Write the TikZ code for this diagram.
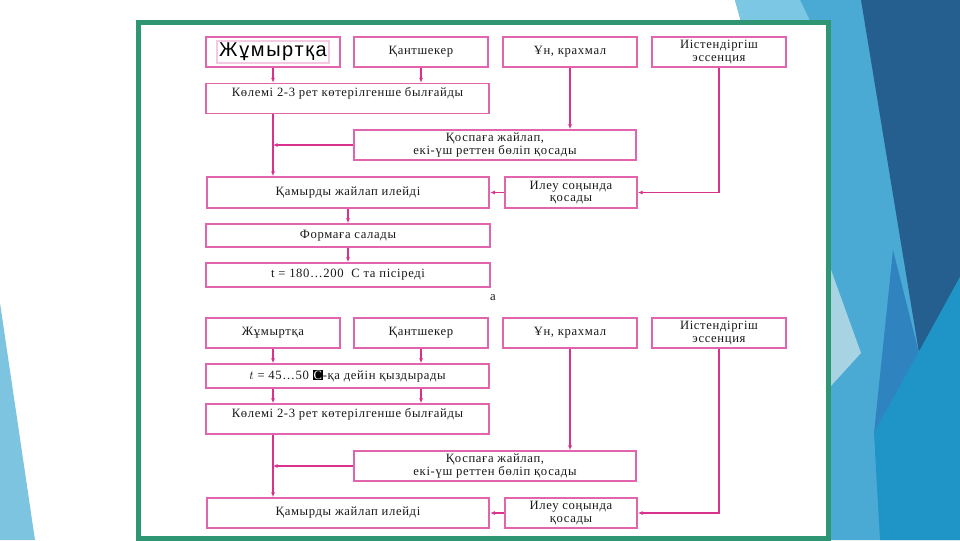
\documentclass[tikz,border=0pt]{standalone}
\usepackage{fontspec}
\setmainfont{Liberation Serif}
\newfontfamily\boxfont[LetterSpace=5]{Liberation Serif}
\newfontfamily\eggfont[LetterSpace=8]{Liberation Sans}
\usetikzlibrary{arrows.meta}

\definecolor{boxpink}{HTML}{E264AC}
\definecolor{linepink}{HTML}{D8328C}
\definecolor{framegreen}{HTML}{2E9672}
\definecolor{skyA}{HTML}{4BAAD4}
\definecolor{skyB}{HTML}{7CC7E3}
\definecolor{navy}{HTML}{245F8F}
\definecolor{midblue}{HTML}{2F84BF}
\definecolor{cerulean}{HTML}{1F95C7}
\definecolor{paleblue}{HTML}{A8D3E3}
\definecolor{leftblue}{HTML}{7DC4E0}

\begin{document}
\begin{tikzpicture}[x=0.75pt,y=-0.75pt,
box/.style={rectangle, draw=boxpink, line width=1.3pt, fill=white, inner sep=1pt, font=\boxfont\fontsize{9.5}{9.5}\selectfont, text=black!90, align=center},
smallbox/.style={box, minimum width=100pt, minimum height=22.5pt},
widebox/.style={box, minimum width=212pt, minimum height=22.5pt},
thinbox/.style={box, minimum width=213pt, minimum height=18pt},
conn/.style={draw=linepink, line width=1.2pt},
arr/.style={conn, -{Latex[length=3.5pt,width=3pt]}},
]
\useasboundingbox (0,0) rectangle (960,540);
% background of the slide
\fill[white] (0,0) rectangle (960,540);
\fill[leftblue] (0,303) -- (35,540) -- (0,540) -- cycle;
\fill[skyA] (735,0) -- (960,0) -- (960,540) -- (826,540) -- (826,25) -- (742,25) -- cycle;
\fill[skyB] (735,0) -- (800,0) -- (812,25) -- (742,25) -- cycle;
\fill[paleblue] (830,267) -- (861,353) -- (830,387) -- cycle;
\fill[navy] (861,0) -- (960,0) -- (960,277) -- (919,353) -- cycle;
\fill[midblue] (893,250) -- (919,353) -- (874,433) -- cycle;
\fill[cerulean] (960,277) -- (960,540) -- (880,540) -- (874,433) -- cycle;
\draw[framegreen, line width=3.75pt, fill=white] (138,22.5) rectangle (828.5,538.5);

% scheme a
\node[smallbox] (egg1) at (273,52) {{\setlength{\fboxrule}{1.6pt}\setlength{\fboxsep}{1pt}\fcolorbox{boxpink!35}{white}{\eggfont\fontsize{15}{15}\selectfont\color{black}Жұмыртқа}}};
\node[smallbox] (sugar1) at (421,52) {Қантшекер};
\node[smallbox] (flour1) at (570,52) {Ұн, крахмал};
\node[smallbox] (ess1) at (719,52) {Иістендіргіш\\эссенция};
\node[widebox] (whip1) at (347.5,98.5) {Көлемі 2-3 рет көтерілгенше былғайды\\~};
\node[widebox] (add1) at (495,145) {Қоспаға жайлап,\\екі-үш реттен бөліп қосады};
\node[widebox, minimum height=23.25pt] (knead1) at (348,192.5) {Қамырды жайлап илейді};
\node[smallbox, minimum width=99pt, minimum height=23.25pt] (end1) at (571,192.5) {Илеу соңында\\қосады};
\node[thinbox, minimum height=17.25pt] (form1) at (348,235.5) {Формаға салады};
\node[thinbox] (bake1) at (348,275) {t = 180…200 \ С та пісіреді};
\node[font=\boxfont\fontsize{9.5}{9.5}\selectfont, text=black!90] (capa) at (493,298) {а};

\draw[arr] (egg1.south) -- (egg1.south |- whip1.north);
\draw[arr] (sugar1.south) -- (sugar1.south |- whip1.north);
\draw[arr] (flour1.south) -- (flour1.south |- add1.north);
\draw[arr] (ess1.south) |- (end1.east);
\draw[arr] (whip1.south -| egg1) -- (knead1.north -| egg1);
\draw[arr] (add1.west) -- (add1.west -| egg1);
\draw[arr] (end1.west) -- (knead1.east);
\draw[arr] (knead1.south) -- (form1.north);
\draw[arr] (form1.south) -- (bake1.north);

% scheme b
\node[smallbox] (egg2) at (273,333) {Жұмыртқа};
\node[smallbox] (sugar2) at (421,333) {Қантшекер};
\node[smallbox] (flour2) at (570,333) {Ұн, крахмал};
\node[smallbox] (ess2) at (719,333) {Иістендіргіш\\эссенция};
\node[widebox, minimum height=18pt] (heat2) at (347.5,376) {$t$ = 45…50 {\setlength{\fboxsep}{0.6pt}\colorbox{black}{\textcolor{white}{С}}}-қа дейін қыздырады};
\node[widebox] (whip2) at (347.5,419) {Көлемі 2-3 рет көтерілгенше былғайды\\~};
\node[widebox] (add2) at (495,466) {Қоспаға жайлап,\\екі-үш реттен бөліп қосады};
\node[widebox, minimum height=22.5pt] (knead2) at (348,513) {Қамырды жайлап илейді};
\node[smallbox, minimum width=99pt] (end2) at (571,513) {Илеу соңында\\қосады};

\draw[arr] (egg2.south) -- (egg2.south |- heat2.north);
\draw[arr] (sugar2.south) -- (sugar2.south |- heat2.north);
\draw[arr] (heat2.south -| egg2) -- (whip2.north -| egg2);
\draw[arr] (heat2.south -| sugar2) -- (whip2.north -| sugar2);
\draw[arr] (flour2.south) -- (flour2.south |- add2.north);
\draw[arr] (ess2.south) |- (end2.east);
\draw[arr] (whip2.south -| egg2) -- (knead2.north -| egg2);
\draw[arr] (add2.west) -- (add2.west -| egg2);
\draw[arr] (end2.west) -- (knead2.east);
\end{tikzpicture}
\end{document}
